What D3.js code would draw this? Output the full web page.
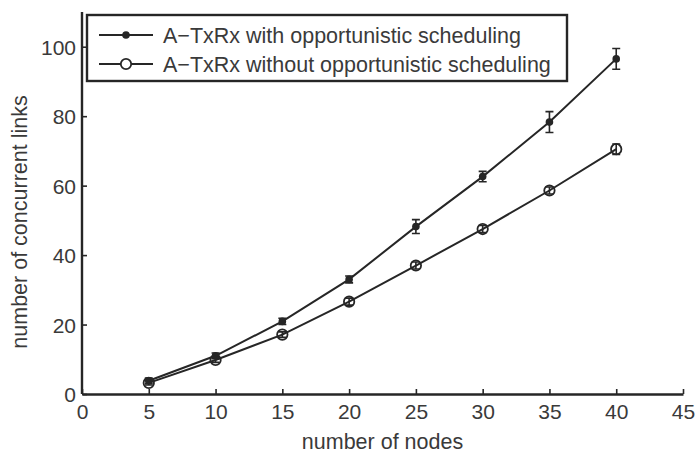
<!DOCTYPE html>
<html>
<head>
<meta charset="utf-8">
<script src="https://cdn.jsdelivr.net/npm/d3@7"></script>
<style>
  body { margin: 0; background: #fff; }
  svg { font-family: "Liberation Sans", Arial, sans-serif; }
</style>
</head>
<body>
<svg id="chart" width="698" height="453"></svg>
<script>
// data
const nodes = [5, 10, 15, 20, 25, 30, 35, 40];
const withOpp = [3.8, 11, 20.9, 33, 48.2, 62.6, 78.3, 96.5];
const withOppErr = [0.8, 0.8, 0.9, 1, 2, 1.5, 3, 3];
const withoutOpp = [3.2, 9.8, 17.1, 26.6, 37, 47.5, 58.6, 70.5];
const withoutOppErr = [0.6, 0.7, 0.8, 1, 1, 1, 1, 1.5];
const xTicks = [0, 5, 10, 15, 20, 25, 30, 35, 40, 45];
const yTicks = [0, 20, 40, 60, 80, 100];
const labels = ["A\u2212TxRx with opportunistic scheduling", "A\u2212TxRx without opportunistic scheduling"];

const svg = d3.select("#chart");
const m = { left: 82, top: 12, right: 15, bottom: 59 };
const W = 698, H = 453;

const x = d3.scaleLinear().domain([0, 45]).range([m.left, W - m.right]);
const y = d3.scaleLinear().domain([0, 110]).range([H - m.bottom, m.top]);

const ink = "#262626";
const txt = "#3a3a3a";

// axes, matlab style: ticks inward, no box
const gx = svg.append("g").attr("transform", `translate(0,${y(0)})`)
  .call(d3.axisBottom(x).tickValues(xTicks).tickSizeInner(-5).tickSizeOuter(0).tickPadding(10));
const gy = svg.append("g").attr("transform", `translate(${x(0)},0)`)
  .call(d3.axisLeft(y).tickValues(yTicks).tickSizeInner(-5).tickSizeOuter(0).tickPadding(6));
[gx, gy].forEach(g => {
  g.select(".domain").attr("stroke", ink).attr("stroke-width", 2.4);
  g.selectAll(".tick line").attr("stroke", ink).attr("stroke-width", 1.6);
  g.selectAll("text").attr("font-size", 21).attr("fill", txt).attr("font-family", "Liberation Sans, Arial, sans-serif");
});
gy.select(".domain").attr("d", `M0,${y(0)}V${m.top}`);
gy.selectAll("text").attr("dy", "0.36em");

svg.append("text").attr("x", x(22.5)).attr("y", 449).attr("text-anchor", "middle")
  .attr("font-size", 21.5).attr("fill", txt).text("number of nodes");
svg.append("text").attr("transform", `translate(27,${222}) rotate(-90)`)
  .attr("text-anchor", "middle").attr("font-size", 21.5).attr("fill", txt).text("number of concurrent links");

const line = d3.line().x(d => x(d[0])).y(d => y(d[1]));

function drawSeries(vals, errs, marker) {
  const pts = nodes.map((n, i) => [n, vals[i], errs[i]]);
  svg.append("path").datum(pts).attr("d", line)
    .attr("fill", "none").attr("stroke", ink).attr("stroke-width", 2);
  const g = svg.append("g").selectAll("g").data(pts).join("g");
  g.append("path").attr("d", d => {
    const cx = x(d[0]), t = y(d[1] + d[2]), b = y(d[1] - d[2]);
    return `M${cx},${t}V${b}M${cx - 4},${t}H${cx + 4}M${cx - 4},${b}H${cx + 4}`;
  }).attr("stroke", ink).attr("stroke-width", 1.6).attr("fill", "none");
  if (marker === "dot") {
    g.append("circle").attr("cx", d => x(d[0])).attr("cy", d => y(d[1])).attr("r", 3.8).attr("fill", ink);
  } else {
    g.append("circle").attr("cx", d => x(d[0])).attr("cy", d => y(d[1])).attr("r", 5.2)
      .attr("fill", "none").attr("stroke", ink).attr("stroke-width", 1.8);
  }
}
drawSeries(withOpp, withOppErr, "dot");
drawSeries(withoutOpp, withoutOppErr, "circle");

// legend
const lg = svg.append("g");
lg.append("rect").attr("x", 87).attr("y", 15).attr("width", 480).attr("height", 66)
  .attr("fill", "#fff").attr("stroke", ink).attr("stroke-width", 2.4);
labels.forEach((lab, i) => {
  const ly = 35 + i * 29;
  lg.append("line").attr("x1", 99).attr("x2", 153).attr("y1", ly).attr("y2", ly)
    .attr("stroke", ink).attr("stroke-width", 2);
  if (i === 0) lg.append("circle").attr("cx", 126).attr("cy", ly).attr("r", 3.8).attr("fill", ink);
  else lg.append("circle").attr("cx", 126).attr("cy", ly).attr("r", 5.2).attr("fill", "#fff").attr("stroke", ink).attr("stroke-width", 1.8);
  lg.append("text").attr("x", 163).attr("y", ly + 7.5).attr("font-size", 21.5).attr("fill", txt).text(lab);
});
</script>
</body>
</html>
